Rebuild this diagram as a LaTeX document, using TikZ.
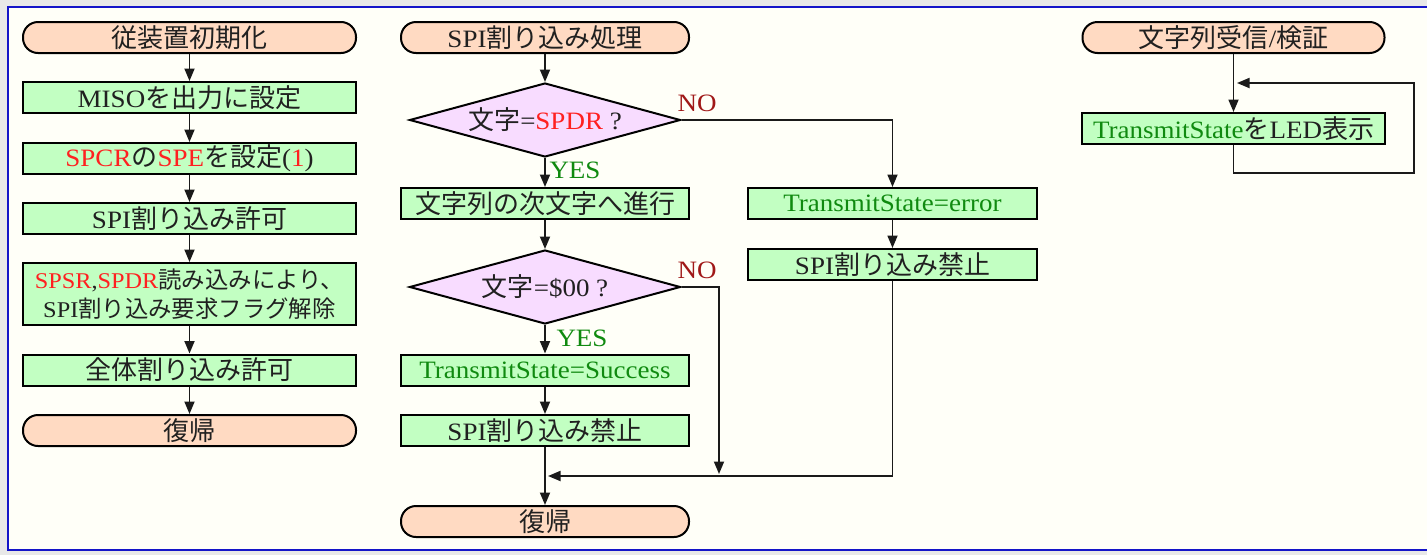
\documentclass[tikz,border=0pt]{standalone}
\usepackage{fontspec}
\setmainfont{Liberation Serif}[FakeStretch=1.08]
\newfontfamily\cjkfont{Noto Sans CJK JP}[Scale=1.04]
\usetikzlibrary{arrows.meta,shapes.geometric}
\newcommand{\J}[1]{{\cjkfont #1}}
\definecolor{pagebg}{HTML}{E8E8E8}
\definecolor{panelbg}{HTML}{FFFFF8}
\definecolor{framecol}{HTML}{1414C8}
\definecolor{termfill}{HTML}{FFDAC2}
\definecolor{procfill}{HTML}{C2FFC2}
\definecolor{decfill}{HTML}{F8DCFF}
\definecolor{txt}{HTML}{202020}
\definecolor{hl}{HTML}{FF2020}
\definecolor{okcol}{HTML}{108A10}
\definecolor{nocol}{HTML}{A01818}
\definecolor{linec}{HTML}{1A1A1A}
\newcommand{\R}[1]{\textcolor{hl}{#1}}
\newcommand{\G}[1]{\textcolor{okcol}{#1}}
\begin{document}
\begin{tikzpicture}[x=1pt,y=-1pt,
  font=\fontsize{25}{30}\selectfont,
  term/.style={draw=black, line width=2pt, fill=termfill, rounded corners=15pt,
    minimum height=31pt, inner sep=0pt, text=txt},
  proc/.style={draw=black, line width=2pt, fill=procfill,
    minimum height=31pt, inner sep=0pt, text=txt},
  dec/.style={diamond, aspect=3.66, draw=black, line width=2pt, fill=decfill,
    minimum width=271pt, minimum height=74pt, inner sep=0pt, text=txt},
  arr/.style={draw=linec, line width=1.8pt, -{Triangle[length=12.5pt,width=10pt]}},
  lbl/.style={inner sep=0pt}]

% page and panel
\useasboundingbox (0,0) rectangle (1427,555);
\fill[pagebg] (0,0) rectangle (1427,555);
\fill[panelbg] (7.5,6.5) rectangle (1427,550);
\draw[framecol, line width=2pt] (1427,6.5) -- (7.5,6.5) -- (7.5,550) -- (1427,550);

% slave initialisation
\node[term, minimum width=333pt] (L1) at (189.5,37.5) {\J{従装置初期化}};
\node[proc, minimum width=333pt] (L2) at (189.5,97.5) {MISO\J{を出力に設定}};
\node[proc, minimum width=333pt] (L3) at (189.5,158.5) {\R{SPCR}\J{の}\R{SPE}\J{を設定}(\R{1})};
\node[proc, minimum width=333pt] (L4) at (189.5,218.5) {SPI\J{割り込み許可}};
\node[proc, minimum width=333pt, minimum height=62pt, align=center,
  font=\fontsize{22.5}{29}\selectfont] (L5) at (189.5,294)
  {\R{SPSR},\R{SPDR}\J{読み込みにより、}\\SPI\J{割り込み要求フラグ解除}};
\node[proc, minimum width=333pt] (L6) at (189.5,370) {\J{全体割り込み許可}};
\node[term, minimum width=333pt] (L7) at (189.5,430.5) {\J{復帰}};

\foreach \a/\b in {L1/L2,L2/L3,L3/L4,L4/L5,L5/L6,L6/L7}
  \draw[arr] (\a) -- (\b);

% SPI interrupt handler
\node[term, minimum width=288pt] (M1) at (545,37.5) {SPI\J{割り込み処理}};
\node[dec] (M2) at (545,120) {\J{文字}=\R{SPDR} ?};
\node[proc, minimum width=288pt] (M3) at (545,203.5) {\J{文字列の次文字へ進行}};
\node[dec] (M4) at (545,287) {\J{文字}=\$00 ?};
\node[proc, minimum width=288pt] (M5) at (545,370) {\G{TransmitState=Success}};
\node[proc, minimum width=288pt] (M6) at (545,430.5) {SPI\J{割り込み禁止}};
\node[term, minimum width=288pt] (M7) at (545,521.5) {\J{復帰}};

\node[proc, minimum width=289pt] (E1) at (892.5,203.5) {\G{TransmitState=error}};
\node[proc, minimum width=289pt] (E2) at (892.5,264.5) {SPI\J{割り込み禁止}};

\node[lbl, text=nocol] (no1) at (697,103) {NO};
\node[lbl, text=okcol] (yes1) at (575,170) {YES};
\node[lbl, text=nocol] (no2) at (697,270) {NO};
\node[lbl, text=okcol] (yes2) at (582,338) {YES};

\foreach \a/\b in {M1/M2,M2/M3,M3/M4,M4/M5,M5/M6,M6/M7,E1/E2}
  \draw[arr] (\a) -- (\b);

\coordinate (nojoin) at (719,474);
\coordinate (merge) at (548,476);
\draw[arr] (M2.east) -| (E1.north);
\draw[arr] (M4.east) -| (nojoin);
\draw[arr] (E2.south) |- (merge);

% string receive / check loop
\node[term, minimum width=302pt] (R1) at (1233.5,37.5) {\J{文字列受信}/\J{検証}};
\node[proc, minimum width=303pt] (R2) at (1233.5,128.5) {\G{TransmitState}\J{を}LED\J{表示}};
\coordinate (loopin) at (1237,83);
\draw[arr] (R1) -- (R2);
\draw[arr] (R2.south) |- (1414,173) |- (loopin);
\end{tikzpicture}
\end{document}
